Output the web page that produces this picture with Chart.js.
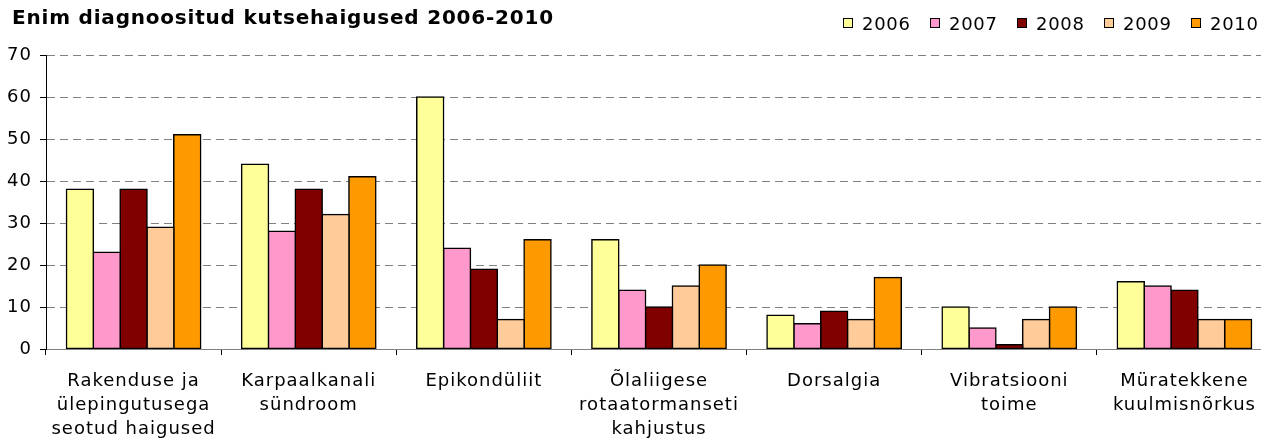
<!DOCTYPE html>
<html>
<head>
<meta charset="utf-8">
<script src="https://cdn.jsdelivr.net/npm/chart.js@4/dist/chart.umd.min.js"></script>
<style>
  html, body { margin: 0; padding: 0; background: #fff; overflow: hidden; width: 1261px; height: 443px; }
  #wrap { position: absolute; left: 0; top: 0; width: 1272px; height: 443px; }
  #title { position: absolute; left: 12px; top: 5px; font-family: "DejaVu Sans", sans-serif; font-weight: bold; font-size: 20px; letter-spacing: 0.8px; color: #000; white-space: nowrap; }
  #legend { position: absolute; left: 843px; top: 9px; font-family: "DejaVu Sans", sans-serif; font-size: 18px; letter-spacing: 0.7px; color: #000; white-space: nowrap; display: flex; }
  .item { display: flex; align-items: center; width: 87px; height: 28px; }
  .sw { width: 8px; height: 8px; border: 1.5px solid #000; margin-right: 9px; }
</style>
</head>
<body>
<div id="wrap"><canvas id="c" width="1272" height="443"></canvas></div>
<div id="title">Enim diagnoositud kutsehaigused 2006-2010</div>
<div id="legend"></div>
<script>
const categories = [
  ["Rakenduse ja", "ülepingutusega", "seotud haigused"],
  ["Karpaalkanali", "sündroom"],
  "Epikondüliit",
  ["Õlaliigese", "rotaatormanseti", "kahjustus"],
  "Dorsalgia",
  ["Vibratsiooni", "toime"],
  ["Müratekkene", "kuulmisnõrkus"]
];
const years = ["2006", "2007", "2008", "2009", "2010"];
const v2006 = [38, 44, 60, 26, 8, 10, 16];
const v2007 = [23, 28, 24, 14, 6, 5, 15];
const v2008 = [38, 38, 19, 10, 9, 1, 14];
const v2009 = [29, 32, 7, 15, 7, 7, 7];
const v2010 = [51, 41, 26, 20, 17, 10, 7];
const colors = ["#FFFF99", "#FF99CC", "#800000", "#FFCC99", "#FF9900"];
const yTicks = [0, 10, 20, 30, 40, 50, 60, 70];

const series = [v2006, v2007, v2008, v2009, v2010];
const datasets = series.map((d, i) => ({
  label: years[i],
  data: d,
  backgroundColor: colors[i],
  borderColor: "#000",
  borderWidth: 1.5,
  borderSkipped: false,
  inflateAmount: 0.8,
  categoryPercentage: 0.766,
  barPercentage: 1.0
}));

// HTML legend built from the same arrays
const lg = document.getElementById("legend");
years.forEach((y, i) => {
  const it = document.createElement("div");
  it.className = "item";
  const sw = document.createElement("div");
  sw.className = "sw";
  sw.style.background = colors[i];
  const t = document.createElement("span");
  t.textContent = y;
  it.appendChild(sw); it.appendChild(t);
  lg.appendChild(it);
});

Chart.defaults.font.family = "'DejaVu Sans', sans-serif";
Chart.defaults.color = "#000";

const spacing = {
  id: "spacing",
  beforeUpdate(chart) { chart.ctx.letterSpacing = "1px"; },
  beforeDraw(chart) { chart.ctx.letterSpacing = "1px"; }
};

new Chart(document.getElementById("c"), {
  type: "bar",
  data: { labels: categories, datasets },
  plugins: [spacing],
  options: {
    responsive: false,
    animation: false,
    layout: { padding: { top: 55, left: 0, right: 0, bottom: 0 } },
    plugins: { legend: { display: false }, title: { display: false }, tooltip: { enabled: false } },
    scales: {
      x: {
        grid: { display: true, drawOnChartArea: false, drawTicks: true, tickLength: 6, tickColor: "#000", offset: true },
        border: { display: true, color: "#808080", width: 1 },
        ticks: { font: { size: 18, lineHeight: 1.333 }, padding: 14, maxRotation: 0, autoSkip: false, color: "#000" },
        afterFit: (s) => { s.height = 94; }
      },
      y: {
        min: 0, max: 70,
        afterBuildTicks: (s) => { s.ticks = yTicks.map(v => ({ value: v })); },
        grid: { color: "#808080", lineWidth: 1, drawTicks: true, tickLength: 6, tickColor: "#000" },
        border: { display: true, color: "#000", width: 1, dash: [8, 5] },
        ticks: { font: { size: 18 }, padding: 8, color: "#000" },
        afterFit: (s) => { s.width = 46; }
      }
    }
  }
});
</script>
</body>
</html>
